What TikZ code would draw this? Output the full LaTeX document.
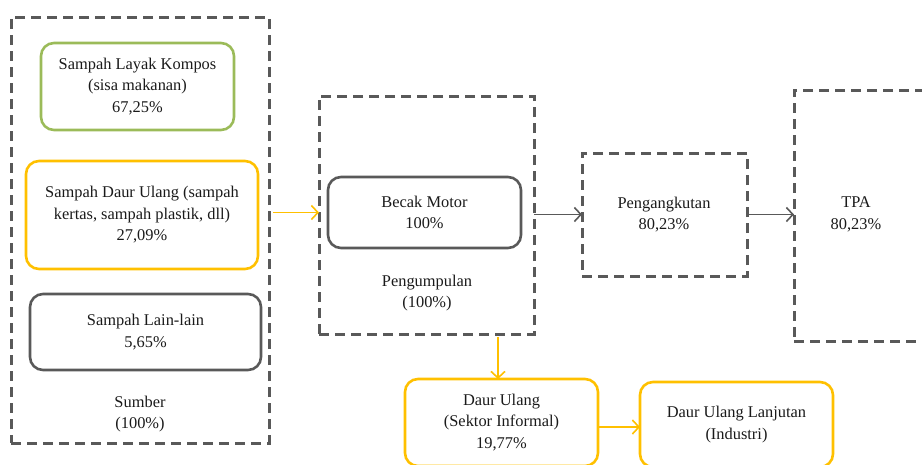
\documentclass[tikz,border=0pt]{standalone}
\usepackage{fontspec}
\setmainfont{Liberation Serif}
\usetikzlibrary{arrows.meta}
\definecolor{dgray}{HTML}{595959}
\definecolor{kgreen}{HTML}{9BBB59}
\definecolor{kgold}{HTML}{FFC000}
\definecolor{ink}{HTML}{1A1A1A}
\newcommand\mytext{\fontsize{16.4}{21.5}\selectfont}
\begin{document}
\begin{tikzpicture}[x=1pt,y=-1pt,
  container/.style={draw=dgray, dash pattern=on 10pt off 6pt, line width=3pt, anchor=north west, inner sep=0pt, outer sep=0pt},
  rbox/.style={draw, rounded corners=13pt, line width=2.6pt, anchor=north west, align=center, inner sep=0pt, outer sep=0pt, font=\mytext, text=ink},
  lbl/.style={align=center, font=\mytext, text=ink, inner sep=0pt},
  flow/.style={line width=1.6pt, -{Straight Barb[length=6.5pt,width=14pt,line width=1.6pt]}},
]
\useasboundingbox (0,0) rectangle (922,464);
\clip (0,0) rectangle (922,464);

% containers
\node[container, minimum width=258pt, minimum height=426pt] (sumber) at (11,17) {};
\node[container, minimum width=215pt, minimum height=238pt] (pengumpulan) at (319,96) {};
\node[container, minimum width=165pt, minimum height=123pt] (pengangkutan) at (582,153) {};
\node[container, minimum width=140pt, minimum height=251pt] (tpa) at (794,90) {};

% boxes in Sumber
\node[rbox, draw=kgreen, minimum width=193pt, minimum height=87pt] (kompos) at (41,43)
  {Sampah Layak Kompos\\(sisa makanan)\\67,25\%};
\node[rbox, draw=kgold, minimum width=232pt, minimum height=108pt] (daur) at (26,161)
  {Sampah Daur Ulang (sampah\\kertas, sampah plastik, dll)\\27,09\%};
\node[rbox, draw=dgray, minimum width=231pt, minimum height=76pt] (lain) at (30,294)
  {Sampah Lain-lain\\5,65\%};
\node[lbl] (sumberlbl) at (140,414) {Sumber\\(100\%)};

% Pengumpulan
\node[rbox, draw=dgray, minimum width=193pt, minimum height=71pt] (becak) at (328,177)
  {Becak Motor\\100\%};
\node[lbl] (pengumpulanlbl) at (427,293) {Pengumpulan\\(100\%)};

% Pengangkutan, TPA labels
\node[lbl] (pengangkutanlbl) at (664,214.5) {Pengangkutan\\80,23\%};
\node[lbl] (tpalbl) at (856,214.5) {TPA\\80,23\%};

% recycling
\node[rbox, draw=kgold, minimum width=193pt, minimum height=87pt] (informal) at (405,379)
  {Daur Ulang\\(Sektor Informal)\\19,77\%};
\node[rbox, draw=kgold, minimum width=193pt, minimum height=85pt] (lanjutan) at (640,382)
  {Daur Ulang Lanjutan\\(Industri)};

% connectors
\draw[flow, draw=kgold, shorten <=4pt] (sumber.east |- becak.west) -- (pengumpulan.west |- becak.west);
\draw[flow, draw=dgray] (pengumpulan.east |- pengangkutan.west) -- (pengangkutan.west);
\draw[flow, draw=dgray, shorten <=2pt] (pengangkutan.east) -- (tpa.west |- pengangkutan.east);
\draw[flow, draw=kgold, shorten <=3pt] ([xshift=-3.5pt]informal.north |- pengumpulan.south) -- ([xshift=-3.5pt]informal.north);
\draw[flow, draw=kgold] (informal.east |- 0,427) -- (lanjutan.west |- 0,427);
\end{tikzpicture}
\end{document}
